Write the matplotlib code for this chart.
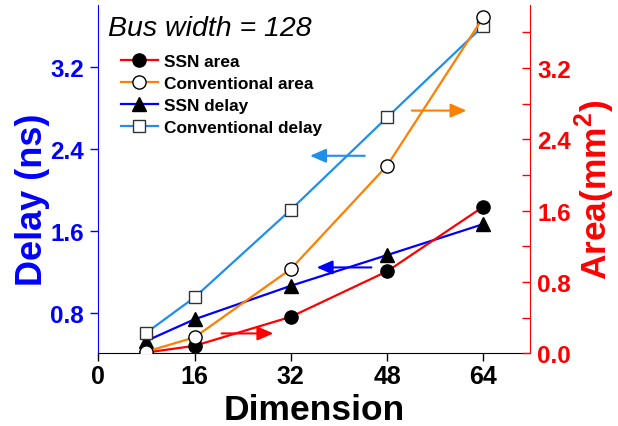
import matplotlib
matplotlib.use("Agg")
import matplotlib.pyplot as plt
from matplotlib.ticker import MultipleLocator

plt.rcParams['font.family'] = ['Liberation Sans', 'DejaVu Sans']
plt.rcParams['font.weight'] = 'bold'
plt.rcParams['mathtext.fontset'] = 'custom'
plt.rcParams['mathtext.bf'] = 'Liberation Sans:bold'
plt.rcParams['mathtext.rm'] = 'Liberation Sans:bold'

dimension = [8, 16, 32, 48, 64]
ssn_area = [0.01, 0.085, 0.41, 0.92, 1.645]
conv_area = [0.02, 0.18, 0.946, 2.105, 3.77]
ssn_delay = [0.53, 0.74, 1.066, 1.365, 1.667]
conv_delay = [0.61, 0.953, 1.806, 2.705, 3.597]

x_ticks = [0, 16, 32, 48, 64]
delay_ticks = [0.8, 1.6, 2.4, 3.2]
area_ticks = [0.0, 0.8, 1.6, 2.4, 3.2]

RED = '#FF0000'
ORANGE = '#FF7F00'
BLUE = '#0000FF'
LBLUE = '#1E8FEA'

fig = plt.figure(figsize=(6.18, 4.27), dpi=100)
ax = fig.add_axes([0.159, 0.170, 0.699, 0.816])
ax2 = ax.twinx()

lw = 1.6
h3, = ax.plot(dimension, ssn_delay, color=BLUE, lw=lw, marker='^', ms=10,
              mfc='black', mec='black', label='SSN delay')
h4, = ax.plot(dimension, conv_delay, color=LBLUE, lw=lw, marker='s', ms=8.5,
              mfc='white', mec='#333333', mew=1.0, label='Conventional delay')
h1, = ax2.plot(dimension, ssn_area, color=RED, lw=lw, marker='o', ms=9.5,
               mfc='black', mec='black', label='SSN area')
h2, = ax2.plot(dimension, conv_area, color=ORANGE, lw=lw, marker='o', ms=9.5,
               mfc='white', mec='black', mew=1.0, label='Conventional area')

ax.set_xlim(0, 71.8)
ax.set_ylim(0.408, 3.8)
ax2.set_ylim(0, 3.907)

ax.set_xticks(x_ticks)
ax.set_yticks(delay_ticks)
ax2.set_yticks(area_ticks)
ax2.yaxis.set_minor_locator(MultipleLocator(0.4))
ax.set_yticklabels([f'{v:.1f}' for v in delay_ticks])
ax2.set_yticklabels([f'{v:.1f}' for v in area_ticks])

for a in (ax, ax2):
    a.spines['top'].set_visible(False)
ax.spines['right'].set_visible(False)
ax2.spines['left'].set_visible(False)
ax2.spines['bottom'].set_visible(False)
ax.spines['left'].set_color(BLUE)
ax2.spines['right'].set_color(RED)
ax.spines['bottom'].set_color('black')

ax.tick_params(axis='x', direction='out', length=6, width=1, labelsize=18, pad=1.5)
ax.tick_params(axis='y', direction='out', length=6, width=1, colors=BLUE,
               labelsize=17.5, pad=4.3)
ax2.tick_params(axis='y', which='both', direction='in', length=6, width=1,
                colors=RED, labelsize=17.5, pad=5)

ax.set_xlabel('Dimension', fontsize=25.5, fontweight='bold', labelpad=4)
ax.set_ylabel('Delay (ns)', fontsize=26, fontweight='bold', color=BLUE, labelpad=0.5)
ax2.set_ylabel('Area(mm$^\\mathbf{2}$)', fontsize=25.5, fontweight='bold', color=RED,
               labelpad=1.5)
ax.yaxis.label.set_y(0.443)
ax2.yaxis.label.set_y(0.472)

ax.text(0.022, 0.914, 'Bus width = 128', transform=ax.transAxes, fontsize=20.5,
        fontstyle='italic', fontweight='normal', va='baseline', ha='left')

leg = ax2.legend(handles=[h1, h2, h3, h4], loc='upper left',
                 bbox_to_anchor=(0.195, 0.872), bbox_transform=fig.transFigure,
                 frameon=False, fontsize=12.4, handlelength=2.2,
                 handletextpad=0.3, labelspacing=0.4, borderpad=0,
                 borderaxespad=0)

def arrow(a, x0, x1, y, color):
    a.annotate('', xy=(x1, y), xytext=(x0, y),
               arrowprops=dict(arrowstyle='-|>,head_length=0.8,head_width=0.35',
                               color=color, lw=1.5, shrinkA=0, shrinkB=0,
                               mutation_scale=12))

arrow(ax, 44.3, 35.2, 2.332, LBLUE)
arrow(ax, 45.4, 36.3, 1.245, BLUE)
arrow(ax2, 52.1, 61.2, 2.723, ORANGE)
arrow(ax2, 20.5, 29.1, 0.224, RED)

fig.savefig('out.png', dpi=100)
